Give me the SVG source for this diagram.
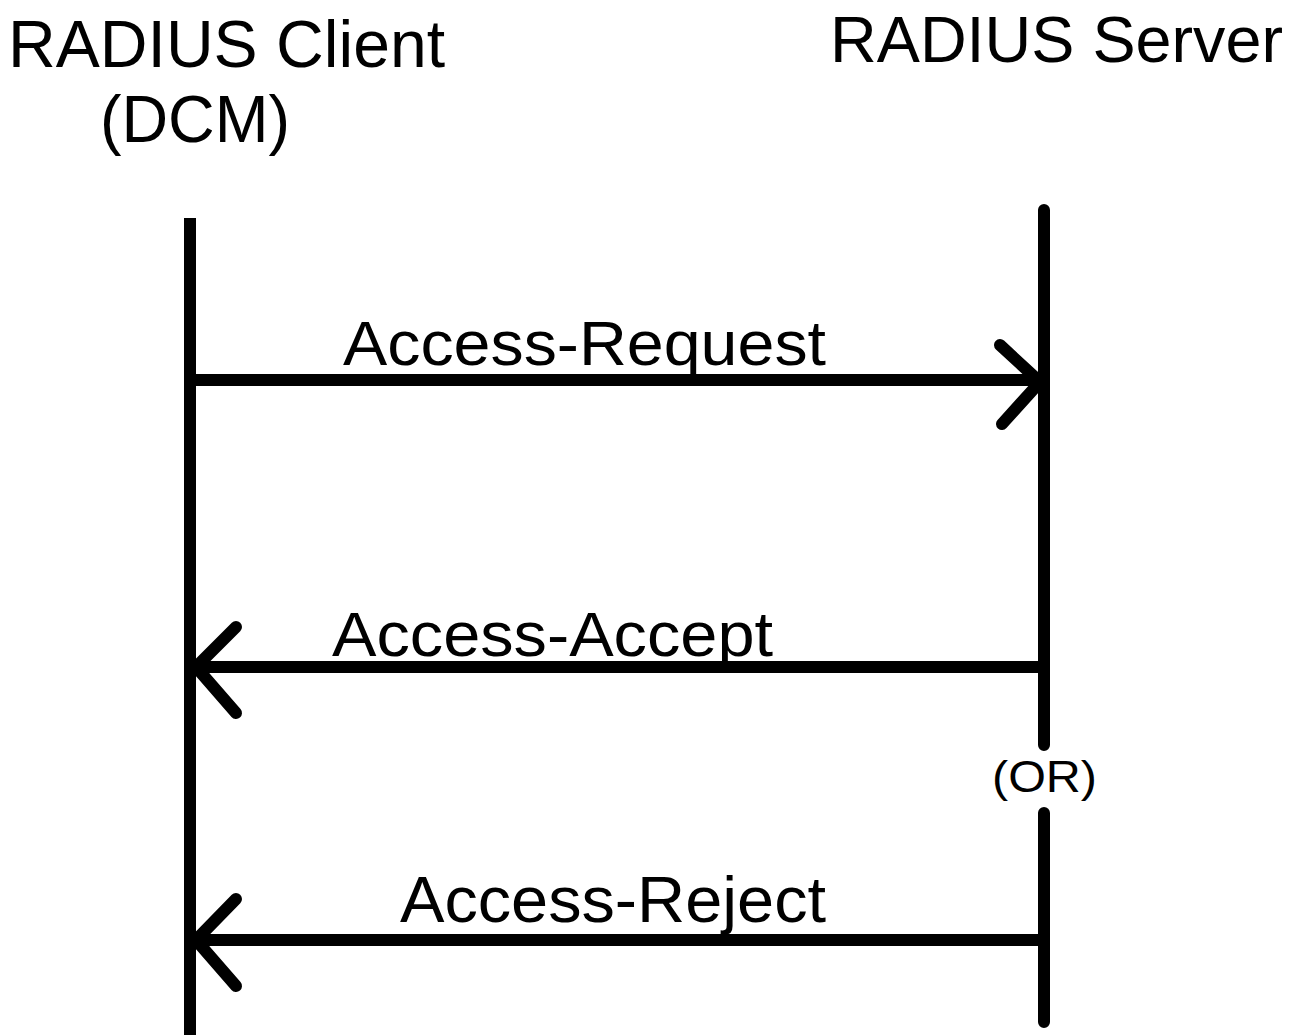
<svg xmlns="http://www.w3.org/2000/svg" width="1303" height="1035" viewBox="0 0 1303 1035">
  <style>
    .label { font-family: "Liberation Sans", Arial, sans-serif; fill: #000; }
    .life { stroke: #000; stroke-width: 12; fill: none; }
    .msg { stroke: #000; stroke-width: 12; fill: none; stroke-linecap: round; stroke-linejoin: round; }
  </style>
  <rect width="1303" height="1035" fill="#fff"/>

  <!-- Participant: client -->
  <g id="client">
    <text class="label" x="8" y="67" font-size="66" textLength="437" lengthAdjust="spacingAndGlyphs">RADIUS Client</text>
    <text class="label" x="100" y="142" font-size="66" textLength="190" lengthAdjust="spacingAndGlyphs">(DCM)</text>
    <line class="life" x1="190" y1="218" x2="190" y2="1035"/>
  </g>

  <!-- Participant: server (lifeline broken around the OR note) -->
  <g id="server">
    <text class="label" x="830" y="62" font-size="65" textLength="453" lengthAdjust="spacingAndGlyphs">RADIUS Server</text>
    <path class="life" d="M1044 210 V745 M1044 813 V1022" stroke-linecap="round"/>
    <text class="label" x="992" y="792" font-size="45" textLength="105" lengthAdjust="spacingAndGlyphs">(OR)</text>
  </g>

  <!-- Messages -->
  <g id="connectors">
    <g id="access-request">
      <path class="msg" d="M196 380 H1040"/>
      <path class="msg" d="M1000 345 L1040 382 L1002 424"/>
      <text class="label" x="343" y="365" font-size="63" textLength="483" lengthAdjust="spacingAndGlyphs">Access-Request</text>
    </g>
    <g id="access-accept">
      <path class="msg" d="M196 667 H1044"/>
      <path class="msg" d="M236 627 L196 667 L236 713"/>
      <text class="label" x="332" y="656" font-size="63" textLength="441" lengthAdjust="spacingAndGlyphs">Access-Accept</text>
    </g>
    <g id="access-reject">
      <path class="msg" d="M196 940 H1044"/>
      <path class="msg" d="M236 899 L196 940 L236 986"/>
      <text class="label" x="400" y="922" font-size="64" textLength="426" lengthAdjust="spacingAndGlyphs">Access-Reject</text>
    </g>
  </g>
</svg>
